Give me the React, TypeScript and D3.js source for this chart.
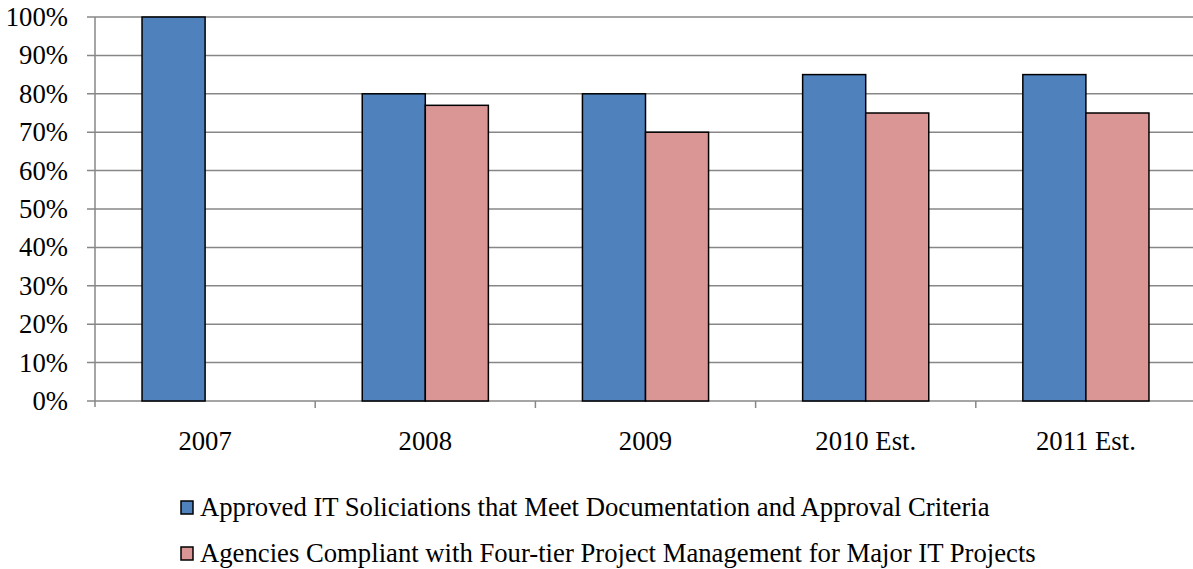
import React from "react";
import * as d3 from "d3";

const categories = ["2007", "2008", "2009", "2010 Est.", "2011 Est."];
const approvedSolicitations: (number | null)[] = [100, 80, 80, 85, 85];
const compliantAgencies: (number | null)[] = [null, 77, 70, 75, 75];
const seriesNames = [
  "Approved IT Soliciations that Meet Documentation and Approval Criteria",
  "Agencies Compliant with Four-tier Project Management for Major IT Projects",
];
const seriesColors = ["#4F81BD", "#D99694"];
const yTicks = [0, 10, 20, 30, 40, 50, 60, 70, 80, 90, 100];

const W = 1193;
const H = 569;
const FONT = '"Liberation Serif", "Times New Roman", Times, serif';
const FS = 26.7;
const textStyle = { fontFamily: FONT, fontSize: FS };

export default function App() {
  const left = 95;
  const right = 1196;
  const top = 17;
  const bottom = 401;

  const x = d3.scaleBand<string>().domain(categories).range([left, right]).paddingInner(0).paddingOuter(0);
  const y = d3.scaleLinear().domain([0, 100]).range([bottom, top]);
  const groupPad = 0.2136;
  const inner = d3
    .scaleBand<number>()
    .domain([0, 1])
    .range([x.bandwidth() * groupPad, x.bandwidth() * (1 - groupPad)]);

  const series = [approvedSolicitations, compliantAgencies];
  const boundaries = d3.range(categories.length + 1).map((i) => left + i * x.step());

  return (
    <svg
      width={W}
      height={H}
      style={{ position: "absolute", left: 0, top: 0, background: "#fff" }}
    >
      {/* horizontal gridlines */}
      {yTicks.map((t) => (
        <line
          key={"g" + t}
          x1={87}
          x2={W}
          y1={y(t)}
          y2={y(t)}
          stroke="#878787"
          strokeWidth={1.5}
        />
      ))}
      {/* vertical axis */}
      <line x1={left} x2={left} y1={top} y2={bottom + 6} stroke="#878787" strokeWidth={1.5} />
      {/* category ticks */}
      {boundaries.slice(1).map((bx, i) => (
        <line key={"t" + i} x1={bx} x2={bx} y1={bottom} y2={bottom + 7} stroke="#878787" strokeWidth={1.5} />
      ))}
      {/* y labels */}
      {yTicks.map((t) => (
        <text
          key={"yl" + t}
          x={68}
          y={y(t)}
          dy="0.34em"
          textAnchor="end"
          style={textStyle}
          fill="#000"
        >
          {t}%
        </text>
      ))}
      {/* bars */}
      {series.map((vals, si) =>
        vals.map((v, ci) =>
          v == null ? null : (
            <rect
              key={`b${si}-${ci}`}
              x={(x(categories[ci]) as number) + (inner(si) as number)}
              y={y(v)}
              width={inner.bandwidth()}
              height={bottom - y(v)}
              fill={seriesColors[si]}
              stroke="#000"
              strokeWidth={1.5}
            />
          )
        )
      )}
      {/* category labels */}
      {categories.map((c) => (
        <text
          key={"c" + c}
          x={(x(c) as number) + x.bandwidth() / 2}
          y={450}
          textAnchor="middle"
          style={textStyle}
          fill="#000"
        >
          {c}
        </text>
      ))}
      {/* legend */}
      {seriesNames.map((n, i) => (
        <g key={"l" + i} transform={`translate(181, ${501 + i * 46})`}>
          <rect x={0} y={0} width={12} height={13} fill={seriesColors[i]} stroke="#000" strokeWidth={1.5} />
          <text x={19} y={14.5} style={textStyle} fill="#000">
            {n}
          </text>
        </g>
      ))}
    </svg>
  );
}
